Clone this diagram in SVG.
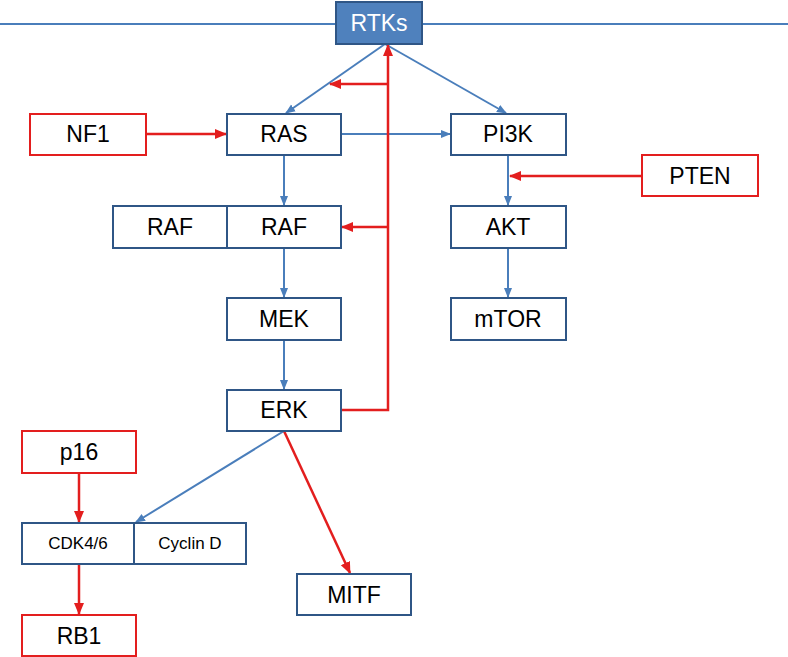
<svg xmlns="http://www.w3.org/2000/svg" width="788" height="657" viewBox="0 0 788 657">
<defs>
<marker id="ab" markerWidth="10" markerHeight="10" refX="9" refY="5" orient="auto" markerUnits="userSpaceOnUse"><path d="M0,1 L10,5 L0,9 z" fill="#4a7ebb"/></marker>
<marker id="ar" markerWidth="12" markerHeight="12" refX="11" refY="6" orient="auto" markerUnits="userSpaceOnUse"><path d="M0,1 L12,6 L0,11 z" fill="#e31e1e"/></marker>
</defs>
<style>
.b{fill:#fff;stroke:#2f5686;stroke-width:2}
.r{fill:#fff;stroke:#e31e1e;stroke-width:2}
text{font-family:"Liberation Sans",Arial,sans-serif;font-size:23px;fill:#000;text-anchor:middle;dominant-baseline:central}
.s{font-size:17px}
.cb{stroke:#4a7ebb;stroke-width:2;fill:none;marker-end:url(#ab)}
.cr{stroke:#e31e1e;stroke-width:2.5;fill:none;marker-end:url(#ar)}
</style>
<line x1="0" y1="24" x2="788" y2="24" stroke="#4a7ebb" stroke-width="2"/>
<g id="connectors">
<line class="cb" x1="385" y1="44" x2="286" y2="113"/>
<line class="cb" x1="385" y1="44" x2="506" y2="113"/>
<line class="cb" x1="341" y1="134" x2="450" y2="134"/>
<line class="cb" x1="284" y1="155" x2="284" y2="205"/>
<line class="cb" x1="284" y1="248" x2="284" y2="297"/>
<line class="cb" x1="284" y1="340" x2="284" y2="389"/>
<line class="cb" x1="508" y1="155" x2="508" y2="205"/>
<line class="cb" x1="508" y1="248" x2="508" y2="297"/>
<line class="cb" x1="284" y1="431" x2="136" y2="522"/>
<line class="cr" x1="146" y1="134" x2="226" y2="134"/>
<line class="cr" x1="642" y1="176" x2="510" y2="176"/>
<polyline class="cr" points="341,410 388,410 388,45"/>
<line class="cr" x1="388" y1="84" x2="330" y2="84"/>
<line class="cr" x1="388" y1="227" x2="342" y2="227"/>
<line class="cr" x1="284" y1="431" x2="350" y2="573"/>
<line class="cr" x1="79" y1="473" x2="79" y2="522"/>
<line class="cr" x1="79" y1="564" x2="79" y2="614"/>
</g>
<g id="RTKs"><rect x="336" y="2" width="86" height="42" fill="#4f81bd" stroke="#2f5686" stroke-width="2"/><text x="379" y="23" fill="#fff" style="fill:#fff">RTKs</text></g>
<g id="NF1"><rect class="r" x="30" y="114" width="116" height="41"/><text x="88" y="134">NF1</text></g>
<g id="RAS"><rect class="b" x="227" y="114" width="114" height="41"/><text x="284" y="134">RAS</text></g>
<g id="PI3K"><rect class="b" x="451" y="114" width="115" height="41"/><text x="508" y="134">PI3K</text></g>
<g id="PTEN"><rect class="r" x="642" y="155" width="116" height="41"/><text x="700" y="176">PTEN</text></g>
<g id="RAF1"><rect class="b" x="113" y="206" width="114" height="42"/><text x="170" y="227">RAF</text></g>
<g id="RAF2"><rect class="b" x="227" y="206" width="114" height="42"/><text x="284" y="227">RAF</text></g>
<g id="AKT"><rect class="b" x="451" y="206" width="115" height="42"/><text x="508" y="227">AKT</text></g>
<g id="MEK"><rect class="b" x="227" y="298" width="114" height="42"/><text x="284" y="319">MEK</text></g>
<g id="mTOR"><rect class="b" x="451" y="298" width="115" height="42"/><text x="508" y="319">mTOR</text></g>
<g id="ERK"><rect class="b" x="227" y="390" width="114" height="41"/><text x="284" y="410">ERK</text></g>
<g id="p16"><rect class="r" x="22" y="431" width="114" height="42"/><text x="79" y="452">p16</text></g>
<g id="CDK46"><rect class="b" x="22" y="523" width="112" height="41"/><text class="s" x="78" y="543">CDK4/6</text></g>
<g id="CyclinD"><rect class="b" x="134" y="523" width="112" height="41"/><text class="s" x="190" y="543">Cyclin D</text></g>
<g id="MITF"><rect class="b" x="297" y="574" width="114" height="41"/><text x="354" y="595">MITF</text></g>
<g id="RB1"><rect class="r" x="22" y="615" width="114" height="41"/><text x="79" y="636">RB1</text></g>
</svg>
